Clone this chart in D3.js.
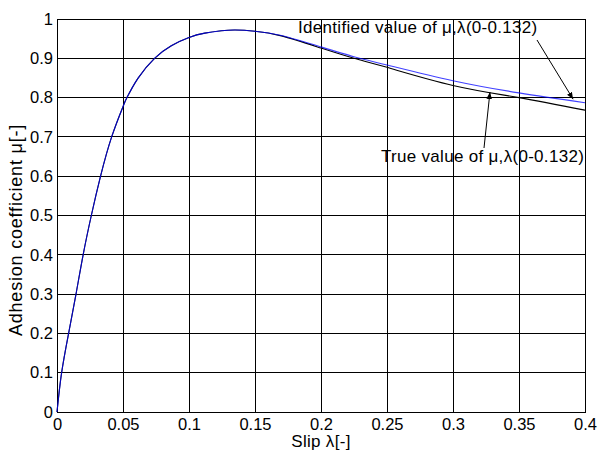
<!DOCTYPE html>
<html>
<head>
<meta charset="utf-8">
<script src="https://cdn.jsdelivr.net/npm/d3@7"></script>
<style>
  html, body { margin: 0; padding: 0; background: #fff; }
  svg { display: block; }
  text { font-family: "Liberation Sans", Arial, sans-serif; fill: #000; }
</style>
</head>
<body>
<script>
// ---- data ----
const xTicks = [0, 0.05, 0.1, 0.15, 0.2, 0.25, 0.3, 0.35, 0.4];
const xTickLabels = ["0", "0.05", "0.1", "0.15", "0.2", "0.25", "0.3", "0.35", "0.4"];
const yTicks = [0, 0.1, 0.2, 0.3, 0.4, 0.5, 0.6, 0.7, 0.8, 0.9, 1];
const yTickLabels = ["0", "0.1", "0.2", "0.3", "0.4", "0.5", "0.6", "0.7", "0.8", "0.9", "1"];

// slip values (shared by both series)
const slip = [0, 0.0035, 0.0088, 0.0144, 0.0198, 0.0260, 0.0330, 0.0414, 0.0500, 0.0530, 0.0613, 0.0739, 0.0866,
              0.100, 0.112, 0.1245, 0.135, 0.150, 0.170, 0.200, 0.225, 0.250, 0.300, 0.350, 0.400];
// true adhesion coefficient (black)
const muTrue = [0, 0.1, 0.2, 0.3, 0.4, 0.5, 0.6, 0.7, 0.777, 0.8, 0.849, 0.9, 0.932,
                0.953, 0.964, 0.970, 0.972, 0.969, 0.957, 0.926, 0.900, 0.877, 0.831, 0.800, 0.768];
// identified adhesion coefficient (blue)
const muIdent = [0, 0.1, 0.2, 0.3, 0.4, 0.5, 0.6, 0.7, 0.777, 0.8, 0.849, 0.9, 0.932,
                 0.953, 0.964, 0.970, 0.972, 0.969, 0.958, 0.929, 0.904, 0.883, 0.843, 0.812, 0.787];

const xTitle = "Slip λ[-]";
const yTitle = "Adhesion coefficient μ[-]";
const identLabel = "Identified value of μ,λ(0-0.132)";
const trueLabel = "True value of μ,λ(0-0.132)";

// ---- layout ----
const W = 599, H = 454;
const L = 57, T = 19, R = 585, B = 412;
const FONT = '"Liberation Sans", Arial, sans-serif';

const svg = d3.select("body").append("svg").attr("width", W).attr("height", H);

const x = d3.scaleLinear().domain([0, 0.4]).range([L, R]);
const y = d3.scaleLinear().domain([0, 1]).range([B, T]);

// grid
const grid = svg.append("g").attr("stroke", "#000").attr("stroke-width", 1).attr("shape-rendering", "crispEdges");
grid.selectAll("line.v").data(xTicks).join("line")
  .attr("x1", d => x(d)).attr("x2", d => x(d)).attr("y1", T).attr("y2", B);
grid.selectAll("line.h").data(yTicks).join("line")
  .attr("y1", d => y(d)).attr("y2", d => y(d)).attr("x1", L).attr("x2", R);

// axes (labels only; ticks are covered by grid)
const fs = 16.5;
const xAxis = d3.axisBottom(x).tickValues(xTicks).tickFormat((d, i) => xTickLabels[i]).tickSize(0).tickPadding(6);
const gx = svg.append("g").attr("transform", `translate(0,${B})`).call(xAxis);
gx.select(".domain").remove();
gx.selectAll("text").style("font-size", fs + "px").style("font-family", FONT).attr("fill", "#000");

const yAxis = d3.axisLeft(y).tickValues(yTicks).tickFormat((d, i) => yTickLabels[i]).tickSize(0).tickPadding(4);
const gy = svg.append("g").attr("transform", `translate(${L},0)`).call(yAxis);
gy.select(".domain").remove();
gy.selectAll("text").style("font-size", fs + "px").style("font-family", FONT).attr("fill", "#000");

// frame
svg.append("rect").attr("x", L).attr("y", T).attr("width", R - L).attr("height", B - T)
  .attr("fill", "none").attr("stroke", "#000").attr("stroke-width", 1).attr("shape-rendering", "crispEdges");

// lines
const line = d3.line().curve(d3.curveNatural);
const ptsTrue = slip.map((s, i) => [x(s), y(muTrue[i])]);
const ptsIdent = slip.map((s, i) => [x(s), y(muIdent[i])]);
svg.append("path").attr("d", line(ptsTrue)).attr("fill", "none").attr("stroke", "#000").attr("stroke-width", 1.1);
svg.append("path").attr("d", line(ptsIdent)).attr("fill", "none").attr("stroke", "#0000ff")
  .attr("stroke-opacity", 0.75).attr("stroke-width", 1.1);

// titles
svg.append("text").attr("x", 321).attr("y", 447).attr("text-anchor", "middle")
  .style("font-size", "17px").style("letter-spacing", "0.3px").text(xTitle);
svg.append("text").attr("transform", `translate(22,230) rotate(-90)`).attr("text-anchor", "middle")
  .style("font-size", "18px").style("letter-spacing", "0.8px").text(yTitle);

// annotations
svg.append("defs").append("marker").attr("id", "ah").attr("viewBox", "0 0 10 10")
  .attr("refX", 10).attr("refY", 5).attr("markerWidth", 7).attr("markerHeight", 7)
  .attr("orient", "auto").attr("markerUnits", "userSpaceOnUse")
  .append("path").attr("d", "M0,1 L10,5 L0,9 Z").attr("fill", "#000");

svg.append("text").attr("x", 298).attr("y", 33).style("font-size", "17px").style("letter-spacing", "0.3px").text(identLabel);
svg.append("line").attr("x1", 537).attr("y1", 40).attr("x2", x(0.391)).attr("y2", y(0.796))
  .attr("stroke", "#000").attr("stroke-width", 1).attr("marker-end", "url(#ah)");

svg.append("text").attr("x", 381).attr("y", 162).style("font-size", "17px").style("letter-spacing", "0.3px").text(trueLabel);
svg.append("line").attr("x1", 484).attr("y1", 148).attr("x2", x(0.328)).attr("y2", y(0.814))
  .attr("stroke", "#000").attr("stroke-width", 1).attr("marker-end", "url(#ah)");
</script>
</body>
</html>
